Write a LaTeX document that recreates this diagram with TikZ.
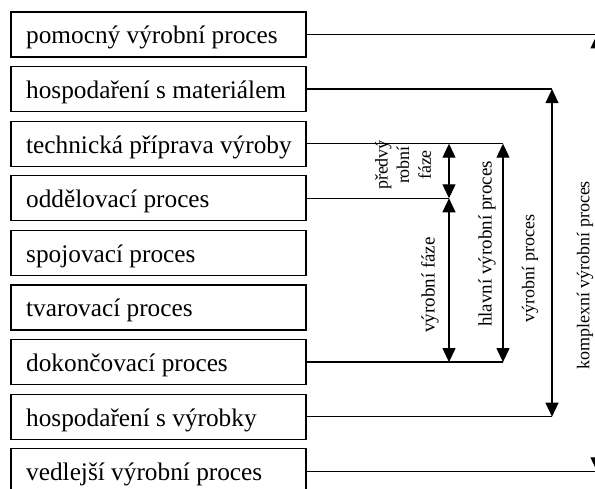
\documentclass[tikz,border=0pt]{standalone}
\usepackage{fontspec}
\setmainfont{Liberation Serif}
\usetikzlibrary{arrows.meta}
\begin{document}
\begin{tikzpicture}[x=1pt,y=-1pt,
 procbox/.style={draw, line width=1.2pt, minimum width=295pt, minimum height=45pt, inner sep=0pt},
 boxtext/.style={font=\fontsize{25.3}{30}\selectfont, anchor=base west, inner sep=0pt},
 conn/.style={line width=1.2pt},
 dbl/.style={line width=1.2pt, {Triangle[length=14pt,width=13pt]}-{Triangle[length=14pt,width=13pt]}},
 vlabel/.style={rotate=90, inner sep=0pt, font=\fontsize{19}{22}\selectfont}]
\useasboundingbox (0,0) rectangle (595,489);
\foreach \i/\t in {1/pomocný výrobní proces, 2/hospodaření s materiálem, 3/technická příprava výroby, 4/oddělovací proces, 5/spojovací proces, 6/tvarovací proces, 7/dokončovací proces, 8/hospodaření s výrobky, 9/vedlejší výrobní proces} {
  \node[procbox] (b\i) at (158.5, {34.5+54.6*(\i-1)}) {};
  \node[boxtext] (t\i) at (26, {34.5+54.6*(\i-1)+9.5}) {\t};
}
\coordinate (xA) at (449,0);
\coordinate (xB) at (503,0);
\coordinate (xC) at (552,0);
\coordinate (xD) at (597,0);
% connectors
\draw[conn] (b1.east) -- (b1.east -| xD);
\draw[conn] (b2.east) -- (b2.east -| xC);
\draw[conn] (b3.east) -- (b3.east -| xB);
\draw[conn] (b4.east) -- (b4.east -| xA);
\draw[conn] (b7.east) -- (b7.east -| xB);
\draw[conn] (b8.east) -- (b8.east -| xC);
\draw[conn] (b9.east) -- (b9.east -| xD);
% arrows
\draw[dbl] (b3.east -| xA) -- (b4.east -| xA);
\draw[dbl] (b4.east -| xA) -- (b7.east -| xA);
\draw[dbl] (b3.east -| xB) -- (b7.east -| xB);
\draw[dbl] (b2.east -| xC) -- (b8.east -| xC);
\draw[dbl] (b1.east -| xD) -- (b9.east -| xD);
% labels
\node[vlabel, font=\fontsize{18}{21.6}\selectfont, align=center] (lp) at (403,165) {předvý\\robní\\fáze};
\node[vlabel] (lv) at (430,285) {výrobní fáze};
\node[vlabel] (lh) at (487,244) {hlavní výrobní proces};
\node[vlabel, font=\fontsize{18}{22}\selectfont] (lvp) at (530,268.5) {výrobní proces};
\node[vlabel, font=\fontsize{18}{22}\selectfont] (lk) at (585,275.5) {komplexní výrobní proces};
\end{tikzpicture}
\end{document}
